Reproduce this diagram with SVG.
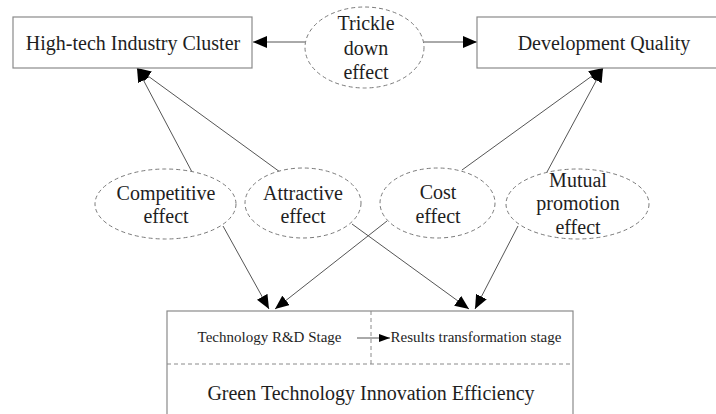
<svg xmlns="http://www.w3.org/2000/svg" width="716" height="414" viewBox="0 0 716 414">
  <style>
    .box { fill: #ffffff; stroke: #8a8a8a; stroke-width: 1.2; }
    .oval { fill: #ffffff; stroke: #7a7a7a; stroke-width: 1; stroke-dasharray: 4 3; }
    .div { fill: none; stroke: #8a8a8a; stroke-width: 1; stroke-dasharray: 4 3; }
    .edge { fill: none; stroke: #555555; stroke-width: 1; }
    text { font-family: "Liberation Serif", "Times New Roman", serif; fill: #1e1e1e; text-anchor: middle; }
    .lbl { font-size: 20px; }
    .small { font-size: 15px; }
  </style>
  <defs>
    <marker id="arrow" markerUnits="userSpaceOnUse" markerWidth="14" markerHeight="12" refX="14" refY="6" orient="auto">
      <path d="M0,0 L14,6 L0,12 z" fill="#000000"/>
    </marker>
    <marker id="arrow-small" markerUnits="userSpaceOnUse" markerWidth="11" markerHeight="8" refX="11" refY="4" orient="auto">
      <path d="M0,0 L11,4 L0,8 z" fill="#000000"/>
    </marker>
  </defs>

  <rect width="716" height="414" fill="#ffffff"/>

  <!-- connectors -->
  <g id="connectors">
    <line class="edge" x1="305" y1="42" x2="253" y2="42" marker-end="url(#arrow)"/>
    <line class="edge" x1="424" y1="42" x2="477" y2="42" marker-end="url(#arrow)"/>
    <line class="edge" x1="192" y1="172" x2="137" y2="68" marker-end="url(#arrow)"/>
    <line class="edge" x1="280" y1="172" x2="137" y2="68" marker-end="url(#arrow)"/>
    <line class="edge" x1="462" y1="170" x2="603" y2="68" marker-end="url(#arrow)"/>
    <line class="edge" x1="547" y1="172" x2="603" y2="68" marker-end="url(#arrow)"/>
    <line class="edge" x1="223" y1="226" x2="269" y2="309" marker-end="url(#arrow)"/>
    <line class="edge" x1="387" y1="221" x2="275" y2="309" marker-end="url(#arrow)"/>
    <line class="edge" x1="352" y1="224" x2="469" y2="309" marker-end="url(#arrow)"/>
    <line class="edge" x1="518" y1="226" x2="475" y2="309" marker-end="url(#arrow)"/>
  </g>

  <!-- top nodes -->
  <g id="cluster">
    <rect class="box" x="13" y="17" width="239" height="51"/>
    <text class="lbl" x="133" y="50">High-tech Industry Cluster</text>
  </g>
  <g id="quality">
    <rect class="box" x="477" y="17" width="256" height="51"/>
    <text class="lbl" x="604" y="50">Development Quality</text>
  </g>
  <g id="trickle">
    <ellipse class="oval" cx="364.5" cy="47.5" rx="59.5" ry="40.5"/>
    <text class="lbl" x="366" y="30">Trickle</text>
    <text class="lbl" x="366" y="55">down</text>
    <text class="lbl" x="366" y="79">effect</text>
  </g>

  <!-- effect nodes -->
  <g id="competitive">
    <ellipse class="oval" cx="165.5" cy="204" rx="70.5" ry="35"/>
    <text class="lbl" x="166" y="200">Competitive</text>
    <text class="lbl" x="166" y="223">effect</text>
  </g>
  <g id="attractive">
    <ellipse class="oval" cx="303" cy="203" rx="58" ry="35"/>
    <text class="lbl" x="303" y="200">Attractive</text>
    <text class="lbl" x="303" y="223">effect</text>
  </g>
  <g id="cost">
    <ellipse class="oval" cx="437.5" cy="203" rx="57.5" ry="35"/>
    <text class="lbl" x="438" y="199">Cost</text>
    <text class="lbl" x="438" y="223">effect</text>
  </g>
  <g id="mutual">
    <ellipse class="oval" cx="577.5" cy="204" rx="71.5" ry="35"/>
    <text class="lbl" x="578" y="187">Mutual</text>
    <text class="lbl" x="578" y="210">promotion</text>
    <text class="lbl" x="578" y="234">effect</text>
  </g>

  <!-- efficiency node with its two stages -->
  <g id="efficiency">
    <rect class="box" x="167" y="311" width="406" height="120"/>
    <line class="div" x1="371" y1="311" x2="371" y2="364"/>
    <line class="div" x1="167" y1="364" x2="573" y2="364"/>
    <text class="small" x="269.5" y="342">Technology R&amp;D Stage</text>
    <line class="edge" x1="357" y1="338" x2="390" y2="338" marker-end="url(#arrow-small)"/>
    <text class="small" x="476" y="342">Results transformation stage</text>
    <text class="lbl" x="371" y="400">Green Technology Innovation Efficiency</text>
  </g>
</svg>
